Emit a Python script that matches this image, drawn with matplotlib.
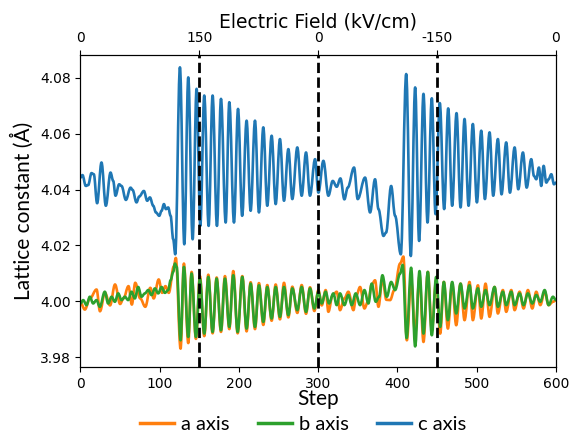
import numpy as np
import matplotlib
matplotlib.use("Agg")
import matplotlib.pyplot as plt
from matplotlib.path import Path
from matplotlib.patches import PathPatch
from matplotlib.lines import Line2D

# c axis (turning points)
c_step = [0, 2.5, 6.7, 9.7, 13.9, 16.8, 21, 26.5, 32, 37.9, 41.3, 44.2, 48.8, 51.8, 57.3,
          63.2, 65.7, 70.7, 74.1, 80, 84.2, 87.6, 91.8, 95.2, 99.4, 102.3, 105.3, 107.8,
          110.7, 113.7, 117, 119.6, 125.5, 131, 136, 141.5, 146.5, 151.2, 156.2, 161.7,
          166.7, 172.2, 177.3, 183.2, 187.8, 193.7, 198.8, 204, 209.6, 214.7, 220.2, 225.2,
          230.7, 235.7, 241.2, 246.3, 251.7, 256.8, 262.3, 267.3, 273.6, 279.1, 284.6,
          289.6, 296, 300.2, 306.5, 312.8, 318.3, 323.3, 328, 333, 337.2, 345.2, 349.8,
          359.1, 365.4, 371.7, 376, 382.3, 385.6, 392, 397, 404.2, 411, 416.8, 422.3,
          427.3, 432.8, 437.9, 443.3, 448, 453.4, 458.9, 464, 469, 474.5, 479.6, 484.6,
          489.7, 495.1, 500.2, 505.7, 510.3, 516.2, 520.8, 526.7, 531.3, 537.2, 541.9,
          547.8, 552.4, 558.3, 563, 568.8, 572.2, 575.1, 578.5, 581.4, 584.4, 587.8,
          590.7, 594.1, 597.5, 600]
c_val = [4.0443, 4.0452, 4.0413, 4.0416, 4.0459, 4.0455, 4.0351, 4.0497, 4.0342, 4.0461,
         4.0431, 4.0378, 4.0419, 4.0413, 4.0363, 4.0407, 4.0399, 4.0354, 4.0375, 4.0395,
         4.0360, 4.0372, 4.0342, 4.0318, 4.0306, 4.0324, 4.0348, 4.0330, 4.0336, 4.0306,
         4.0222, 4.0168, 4.0838, 4.0204, 4.0802, 4.0222, 4.0761, 4.0270, 4.0737, 4.0270,
         4.0737, 4.0270, 4.0725, 4.0282, 4.0713, 4.0282, 4.0689, 4.0306, 4.0647, 4.0324,
         4.0647, 4.0318, 4.0623, 4.0342, 4.0593, 4.0348, 4.0581, 4.0360, 4.0545, 4.0366,
         4.0551, 4.0378, 4.0533, 4.0378, 4.0509, 4.0389, 4.0503, 4.0378, 4.0431, 4.0410,
         4.0440, 4.0365, 4.0407, 4.0479, 4.0366, 4.0443, 4.0318, 4.0437, 4.0330, 4.0234,
         4.0246, 4.0413, 4.0306, 4.0168, 4.0814, 4.0162, 4.0766, 4.0216, 4.0743, 4.0282,
         4.0727, 4.0312, 4.0710, 4.0330, 4.0691, 4.0342, 4.0674, 4.0336, 4.0653, 4.0342,
         4.0635, 4.0354, 4.0611, 4.0366, 4.0605, 4.0378, 4.0581, 4.0383, 4.0569, 4.0389,
         4.0551, 4.0401, 4.0533, 4.0407, 4.0509, 4.0449, 4.0437, 4.0479, 4.0413, 4.0485,
         4.0425, 4.0437, 4.0455, 4.0419, 4.0425]

# b axis
b_step = [0, 3.4, 7.6, 11.8, 16, 20.2, 24.4, 30.7, 34.9, 39.2, 43.4, 47.6, 51.8, 56, 60.2,
          64.4, 68.6, 72.8, 77, 81.3, 85.5, 89.7, 93.9, 98.1, 102.3, 106.5, 110.7, 113.7,
          117, 119.2, 121.3, 126.3, 130.5, 136, 140.2, 145.7, 150.7, 156.2, 161.3, 166.7,
          171.8, 177.3, 182.3, 187.8, 192.8, 198.3, 204.2, 209.6, 214.7, 220.2, 225.2,
          230.7, 235.7, 241.2, 246.3, 251.7, 256.8, 262.3, 267.3, 273.6, 279.1, 284.6,
          289.6, 295.1, 300.2, 304.4, 309.4, 313.6, 319.1, 323.3, 327.5, 333, 338, 342.3,
          347.3, 352.8, 358.3, 363.3, 367.5, 372.6, 376.8, 381, 386.5, 392, 397, 403.3,
          406.5, 411.5, 417.2, 422.3, 427.8, 432.8, 438.3, 443.3, 448.8, 453.9, 458.5,
          463.6, 469, 474.1, 479.6, 484.6, 490.9, 495.1, 501.5, 505.7, 511.1, 516.2, 522.5,
          526.7, 533, 537.2, 543.6, 547.8, 554.1, 559.1, 564.6, 570.1, 575.1, 580.2, 585.7,
          590.7, 596.2, 600]
b_val = [3.9992, 4.0004, 3.9986, 4.0016, 3.9992, 4.0004, 3.9980, 4.0034, 3.9992, 4.0016,
         3.9998, 4.0028, 4.0004, 4.0016, 4.0004, 4.0034, 4.0010, 4.0051, 4.0016, 4.0028,
         4.0040, 4.0022, 4.0046, 4.0028, 4.0051, 4.0030, 4.0040, 4.0075, 4.0105, 4.0135,
         4.0123, 3.9860, 4.0123, 3.9872, 4.0099, 3.9872, 4.0081, 3.9884, 4.0087, 3.9890,
         4.0081, 3.9896, 4.0081, 3.9908, 4.0093, 3.9890, 4.0087, 3.9902, 4.0063, 3.9908,
         4.0057, 3.9926, 4.0051, 3.9938, 4.0051, 3.9944, 4.0051, 3.9950, 4.0046, 3.9968,
         4.0051, 3.9962, 4.0046, 3.9974, 4.0034, 3.9992, 4.0034, 3.9992, 4.0028, 3.9986,
         4.0028, 3.9986, 4.0022, 3.9986, 4.0028, 3.9986, 4.0040, 3.9992, 4.0063, 3.9998,
         4.0016, 4.0093, 4.0016, 4.0069, 4.0040, 4.0099, 4.0130, 3.9868, 4.0120, 3.9838,
         4.0108, 3.9884, 4.0105, 3.9878, 4.0087, 3.9908, 4.0069, 3.9932, 4.0069, 3.9956,
         4.0063, 3.9974, 4.0057, 3.9974, 4.0046, 3.9980, 4.0040, 3.9986, 4.0051, 3.9980,
         4.0034, 3.9986, 4.0034, 3.9986, 4.0028, 3.9986, 4.0028, 3.9992, 4.0022, 3.9998,
         4.0040, 3.9986, 4.0016, 4.0004]

# a axis
a_step = [0, 5.5, 11.9, 20.3, 24.6, 30.9, 37.3, 43.6, 50, 54.2, 60.6, 64.8, 69.1, 75.4,
          81.8, 88.1, 92.4, 98.7, 103, 107.2, 111.4, 117.8, 120.3, 126.3, 130.5, 136,
          140.2, 145.7, 150.7, 156.2, 161.3, 166.7, 171.8, 177.3, 182.3, 187.8, 192.8,
          198.3, 204.2, 209.6, 214.7, 220.2, 225.2, 230.7, 235.7, 241.2, 246.3, 251.7,
          256.8, 262.3, 267.3, 273.6, 279.1, 284.6, 289.6, 295.1, 300.2, 304.4, 309.4,
          312.8, 318, 323.3, 327.5, 333, 338, 344.4, 348, 352.8, 358.3, 363, 367.5, 371.7,
          376, 381, 386, 390.7, 396, 403.3, 407.5, 411.8, 417.2, 422.3, 427.8, 432.8,
          438.3, 443.3, 448.8, 453.9, 458.5, 463.6, 469, 474.1, 479.6, 484.6, 490.9, 495.1,
          501.5, 505.7, 511.1, 516.2, 522.5, 526.7, 533, 537.2, 543.6, 547.8, 554.1, 559.1,
          564.6, 570.1, 575.1, 580.2, 585.7, 590.7, 596.2, 600]
a_val = [3.9995, 3.9970, 4.0010, 4.0042, 3.9964, 4.0030, 3.9985, 4.0060, 3.9990, 4.0010,
         4.0054, 3.9988, 4.0066, 4.0010, 3.9980, 4.0048, 4.0010, 4.0078, 4.0030, 4.0054,
         4.0030, 4.0125, 4.0155, 3.9830, 4.0135, 3.9850, 4.0105, 3.9865, 4.0090, 3.9875,
         4.0095, 3.9885, 4.0085, 3.9890, 4.0090, 3.9900, 4.0108, 3.9885, 4.0090, 3.9892,
         4.0068, 3.9900, 4.0065, 3.9915, 4.0058, 3.9930, 4.0060, 3.9935, 4.0066, 3.9942,
         4.0052, 3.9958, 4.0058, 3.9955, 4.0050, 3.9965, 4.0040, 3.9985, 4.0040, 3.9962,
         4.0020, 4.0034, 3.9968, 4.0010, 4.0034, 3.9968, 4.0020, 4.0051, 3.9974, 4.0000,
         4.0060, 4.0075, 3.9980, 4.0081, 4.0005, 4.0004, 4.0040, 4.0135, 4.0160, 3.9860,
         4.0075, 3.9884, 4.0087, 3.9854, 4.0105, 3.9896, 4.0075, 3.9884, 4.0069, 3.9902,
         4.0063, 3.9914, 4.0063, 3.9932, 4.0069, 3.9932, 4.0057, 3.9938, 4.0063, 3.9944,
         4.0051, 3.9956, 4.0040, 3.9962, 4.0040, 3.9968, 4.0034, 3.9974, 4.0040, 3.9974,
         4.0034, 3.9986, 4.0034, 3.9986, 3.9998, 4.0004]

field_pos = [0, 150, 300, 450, 600]
field_labels = ["0", "150", "0", "-150", "0"]
switch_steps = [150, 300, 450]


def smooth_path(xs, ys, k=0.364):
    # cubic Bezier between turning points, flat tangent at each one
    verts = [(xs[0], ys[0])]
    codes = [Path.MOVETO]
    for i in range(1, len(xs)):
        dx = xs[i] - xs[i - 1]
        verts += [(xs[i - 1] + k * dx, ys[i - 1]), (xs[i] - k * dx, ys[i]), (xs[i], ys[i])]
        codes += [Path.CURVE4] * 3
    return Path(verts, codes)


fig = plt.figure(figsize=(5.72, 4.37), dpi=100)
ax = fig.add_axes([0.1407, 0.160, 0.8313, 0.714])

series = [(c_step, c_val, "tab:blue"), (a_step, a_val, "tab:orange"),
          (b_step, b_val, "tab:green")]
for xs, ys, col in series:
    ax.add_patch(PathPatch(smooth_path(xs, ys), facecolor="none", edgecolor=col,
                           lw=1.9, joinstyle="round", capstyle="round", zorder=2))
for s in switch_steps:
    ax.axvline(s, color="black", ls="--", lw=2, zorder=3)

ax.set_xlim(0, 600)
ax.set_ylim(3.9764, 4.0882)
ax.set_yticks(np.arange(3.98, 4.081, 0.02))
ax.yaxis.set_major_formatter(matplotlib.ticker.FormatStrFormatter("%.2f"))
ax.tick_params(labelsize=10)
ax.set_xlabel("Step", fontsize=15, family="Lato", labelpad=-1)
ax.set_ylabel("Lattice constant (Å)", fontsize=15, family="Lato", labelpad=4)

top = ax.twiny()
top.set_xlim(0, 600)
top.set_xticks(field_pos)
top.set_xticklabels(field_labels)
top.tick_params(labelsize=10)
top.set_xlabel("Electric Field (kV/cm)", fontsize=13.5, labelpad=3)

handles = [Line2D([], [], color="tab:orange", lw=2.5, label="a axis"),
           Line2D([], [], color="tab:green", lw=2.5, label="b axis"),
           Line2D([], [], color="tab:blue", lw=2.5, label="c axis")]
fig.legend(handles=handles, loc="lower center", ncol=3, frameon=False,
           bbox_to_anchor=(0.53, -0.033), prop={"family": "Lato", "size": 14.5},
           handlelength=1.7, columnspacing=1.4, handletextpad=0.35)

fig.savefig("out.png", dpi=100)
